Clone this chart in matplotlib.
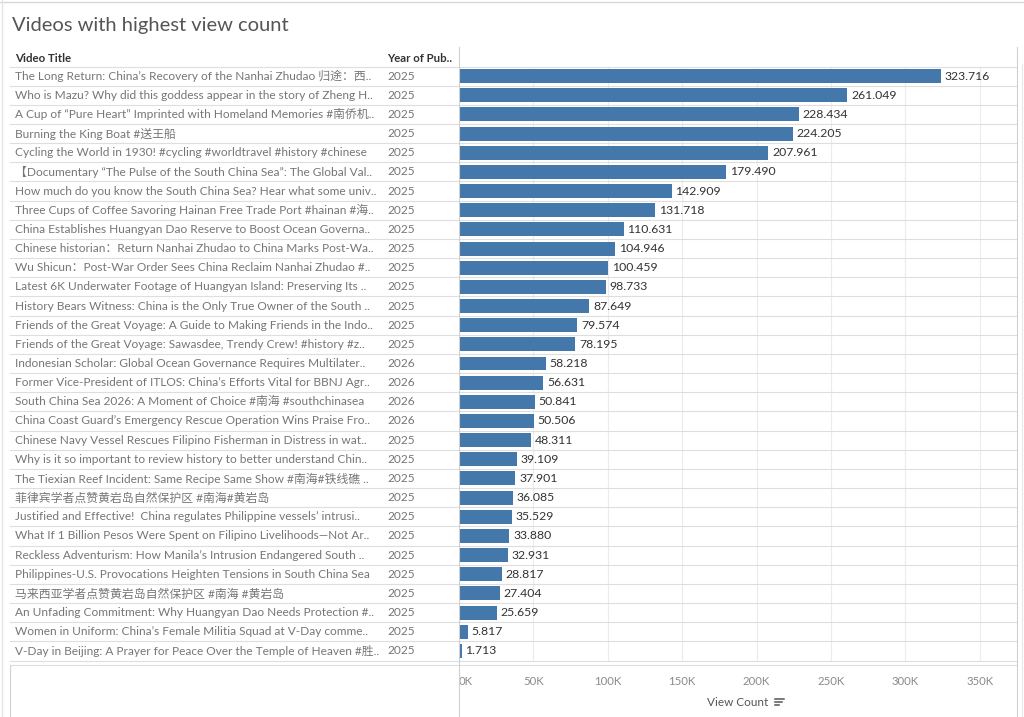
import matplotlib
matplotlib.use("Agg")
import matplotlib.pyplot as plt
from matplotlib.lines import Line2D
from matplotlib.transforms import blended_transform_factory
from matplotlib.ticker import FuncFormatter

plt.rcParams['font.family'] = ['Lato', 'Noto Sans CJK SC', 'DejaVu Sans']

# data
titles = [
    "The Long Return: China’s Recovery of the Nanhai Zhudao 归途：西..",
    "Who is Mazu? Why did this goddess appear in the story of Zheng H..",
    "A Cup of “Pure Heart” Imprinted with Homeland Memories #南侨机..",
    "Burning the King Boat #送王船",
    "Cycling the World in 1930! #cycling #worldtravel #history #chinese",
    "【Documentary “The Pulse of the South China Sea”: The Global Val..",
    "How much do you know the South China Sea? Hear what some univ..",
    "Three Cups of Coffee Savoring Hainan Free Trade Port #hainan #海..",
    "China Establishes Huangyan Dao Reserve to Boost Ocean Governa..",
    "Chinese historian：Return Nanhai Zhudao to China Marks Post-Wa..",
    "Wu Shicun：Post-War Order Sees China Reclaim Nanhai Zhudao #..",
    "Latest 6K Underwater Footage of Huangyan Island: Preserving Its ..",
    "History Bears Witness: China is the Only True Owner of the South ..",
    "Friends of the Great Voyage: A Guide to Making Friends in the Indo..",
    "Friends of the Great Voyage: Sawasdee, Trendy Crew! #history #z..",
    "Indonesian Scholar: Global Ocean Governance Requires Multilater..",
    "Former Vice-President of ITLOS: China’s Efforts Vital for BBNJ Agr..",
    "South China Sea 2026: A Moment of Choice #南海 #southchinasea",
    "China Coast Guard’s Emergency Rescue Operation Wins Praise Fro..",
    "Chinese Navy Vessel Rescues Filipino Fisherman in Distress in wat..",
    "Why is it so important to review history to better understand Chin..",
    "The Tiexian Reef Incident: Same Recipe Same Show #南海#铁线礁 ..",
    "菲律宾学者点赞黄岩岛自然保护区 #南海#黄岩岛",
    "Justified and Effective!  China regulates Philippine vessels’ intrusi..",
    "What If 1 Billion Pesos Were Spent on Filipino Livelihoods—Not Ar..",
    "Reckless Adventurism: How Manila’s Intrusion Endangered South ..",
    "Philippines-U.S. Provocations Heighten Tensions in South China Sea",
    "马来西亚学者点赞黄岩岛自然保护区 #南海 #黄岩岛",
    "An Unfading Commitment: Why Huangyan Dao Needs Protection #..",
    "Women in Uniform: China’s Female Militia Squad at V-Day comme..",
    "V-Day in Beijing: A Prayer for Peace Over the Temple of Heaven #胜..",
]
years = [2025] * 15 + [2026] * 4 + [2025] * 12
views = [323716, 261049, 228434, 224205, 207961, 179490, 142909, 131718,
         110631, 104946, 100459, 98733, 87649, 79574, 78195, 58218, 56631,
         50841, 50506, 48311, 39109, 37901, 36085, 35529, 33880, 32931,
         28817, 27404, 25659, 5817, 1713]
x_ticks = [0, 50000, 100000, 150000, 200000, 250000, 300000, 350000]

W, H = 1024, 717
fig = plt.figure(figsize=(W / 100, H / 100), dpi=100)
fig.patch.set_facecolor('white')

def fx(px):
    return px / W

def fy(py):
    return 1 - py / H

# bar area, in pixel terms of the reference
left, right, top, bottom = 459, 1017, 66.5, 660.5
ax = fig.add_axes([fx(left), fy(bottom), fx(right) - fx(left), fy(top) - fy(bottom)])

n = len(views)
rows = list(range(n))
bar_color = '#4477aa'
grid_color = '#ececec'
line_color = '#dedede'
row_size = 8.55

ax.barh(rows, views, height=0.73, color=bar_color, zorder=3)
ax.set_ylim(n - 0.5, -0.5)
ax.set_xlim(0, 375000)
ax.set_yticks([])
ax.set_xticks(x_ticks)
ax.xaxis.set_major_formatter(FuncFormatter(lambda v, p: f"{int(v / 1000)}K"))
ax.tick_params(axis='x', length=0, pad=11, labelsize=8.2, labelcolor='#8a8a8a')
ax.grid(axis='x', color=grid_color, linewidth=0.8, zorder=0)
for s in ax.spines.values():
    s.set_visible(False)

# value labels
for i, v in enumerate(views):
    ax.text(v + 2500, i, f"{v:,}".replace(",", "."), va='center', ha='left',
            fontsize=8.8, color='#333333', zorder=4)

# table columns on the left
tr = blended_transform_factory(fig.transFigure, ax.transData)
for i in rows:
    ax.text(fx(15), i, titles[i], transform=tr, va='center', ha='left',
            fontsize=row_size, color='#767676', clip_on=False)
    ax.text(fx(387), i, str(years[i]), transform=tr, va='center', ha='left',
            fontsize=row_size, color='#767676', clip_on=False)

# row separators across the whole table
for b in [r + 0.5 for r in rows] + [-0.5]:
    fig.add_artist(Line2D([fx(10), fx(right)], [b, b], transform=tr, color=line_color,
                          linewidth=0.8))
fig.add_artist(Line2D([fx(10), fx(right)], [fy(664.5), fy(664.5)], color=line_color,
                      linewidth=0.8))

# vertical frame lines
fig.add_artist(Line2D([fx(left), fx(left)], [fy(47), fy(717)], color='#d0d0d0', linewidth=0.8))
fig.add_artist(Line2D([fx(right), fx(right)], [fy(47), fy(717)], color='#d0d0d0', linewidth=0.8))
fig.add_artist(Line2D([fx(10), fx(10)], [fy(664.5), fy(717)], color='#d0d0d0', linewidth=0.8))
fig.add_artist(Line2D([fx(1022), fx(1022)], [fy(64), fy(717)], color='#e8e8e8', linewidth=0.8))
fig.add_artist(Line2D([0, 1], [fy(1.5), fy(1.5)], color='#d8d8d8', linewidth=1))
fig.add_artist(Line2D([fx(2), fx(2)], [0, 1], color='#e4e4e4', linewidth=1))

# headers and title
fig.text(fx(12), fy(26), "Videos with highest view count", fontsize=14.5, color='#555555',
         va='center', ha='left')
fig.text(fx(15), fy(58), "Video Title", fontsize=8.3, fontweight='bold', color='#333333',
         va='center', ha='left')
fig.text(fx(387), fy(58), "Year of Pub..", fontsize=8.2, fontweight='bold', color='#333333',
         va='center', ha='left')
fig.text(fx(738), fy(703), "View Count", fontsize=8.5, color='#555555', va='center', ha='center')
# sort icon next to the axis title
for k, ln in enumerate([9, 7, 4]):
    fig.add_artist(Line2D([fx(775), fx(775 + ln)], [fy(699 + 3 * k)] * 2, color='#555555',
                          linewidth=1.1))

fig.canvas.draw()
labels = ax.get_xticklabels()
labels[0].set_horizontalalignment('left')

fig.savefig('out.png', dpi=100, facecolor='white')
